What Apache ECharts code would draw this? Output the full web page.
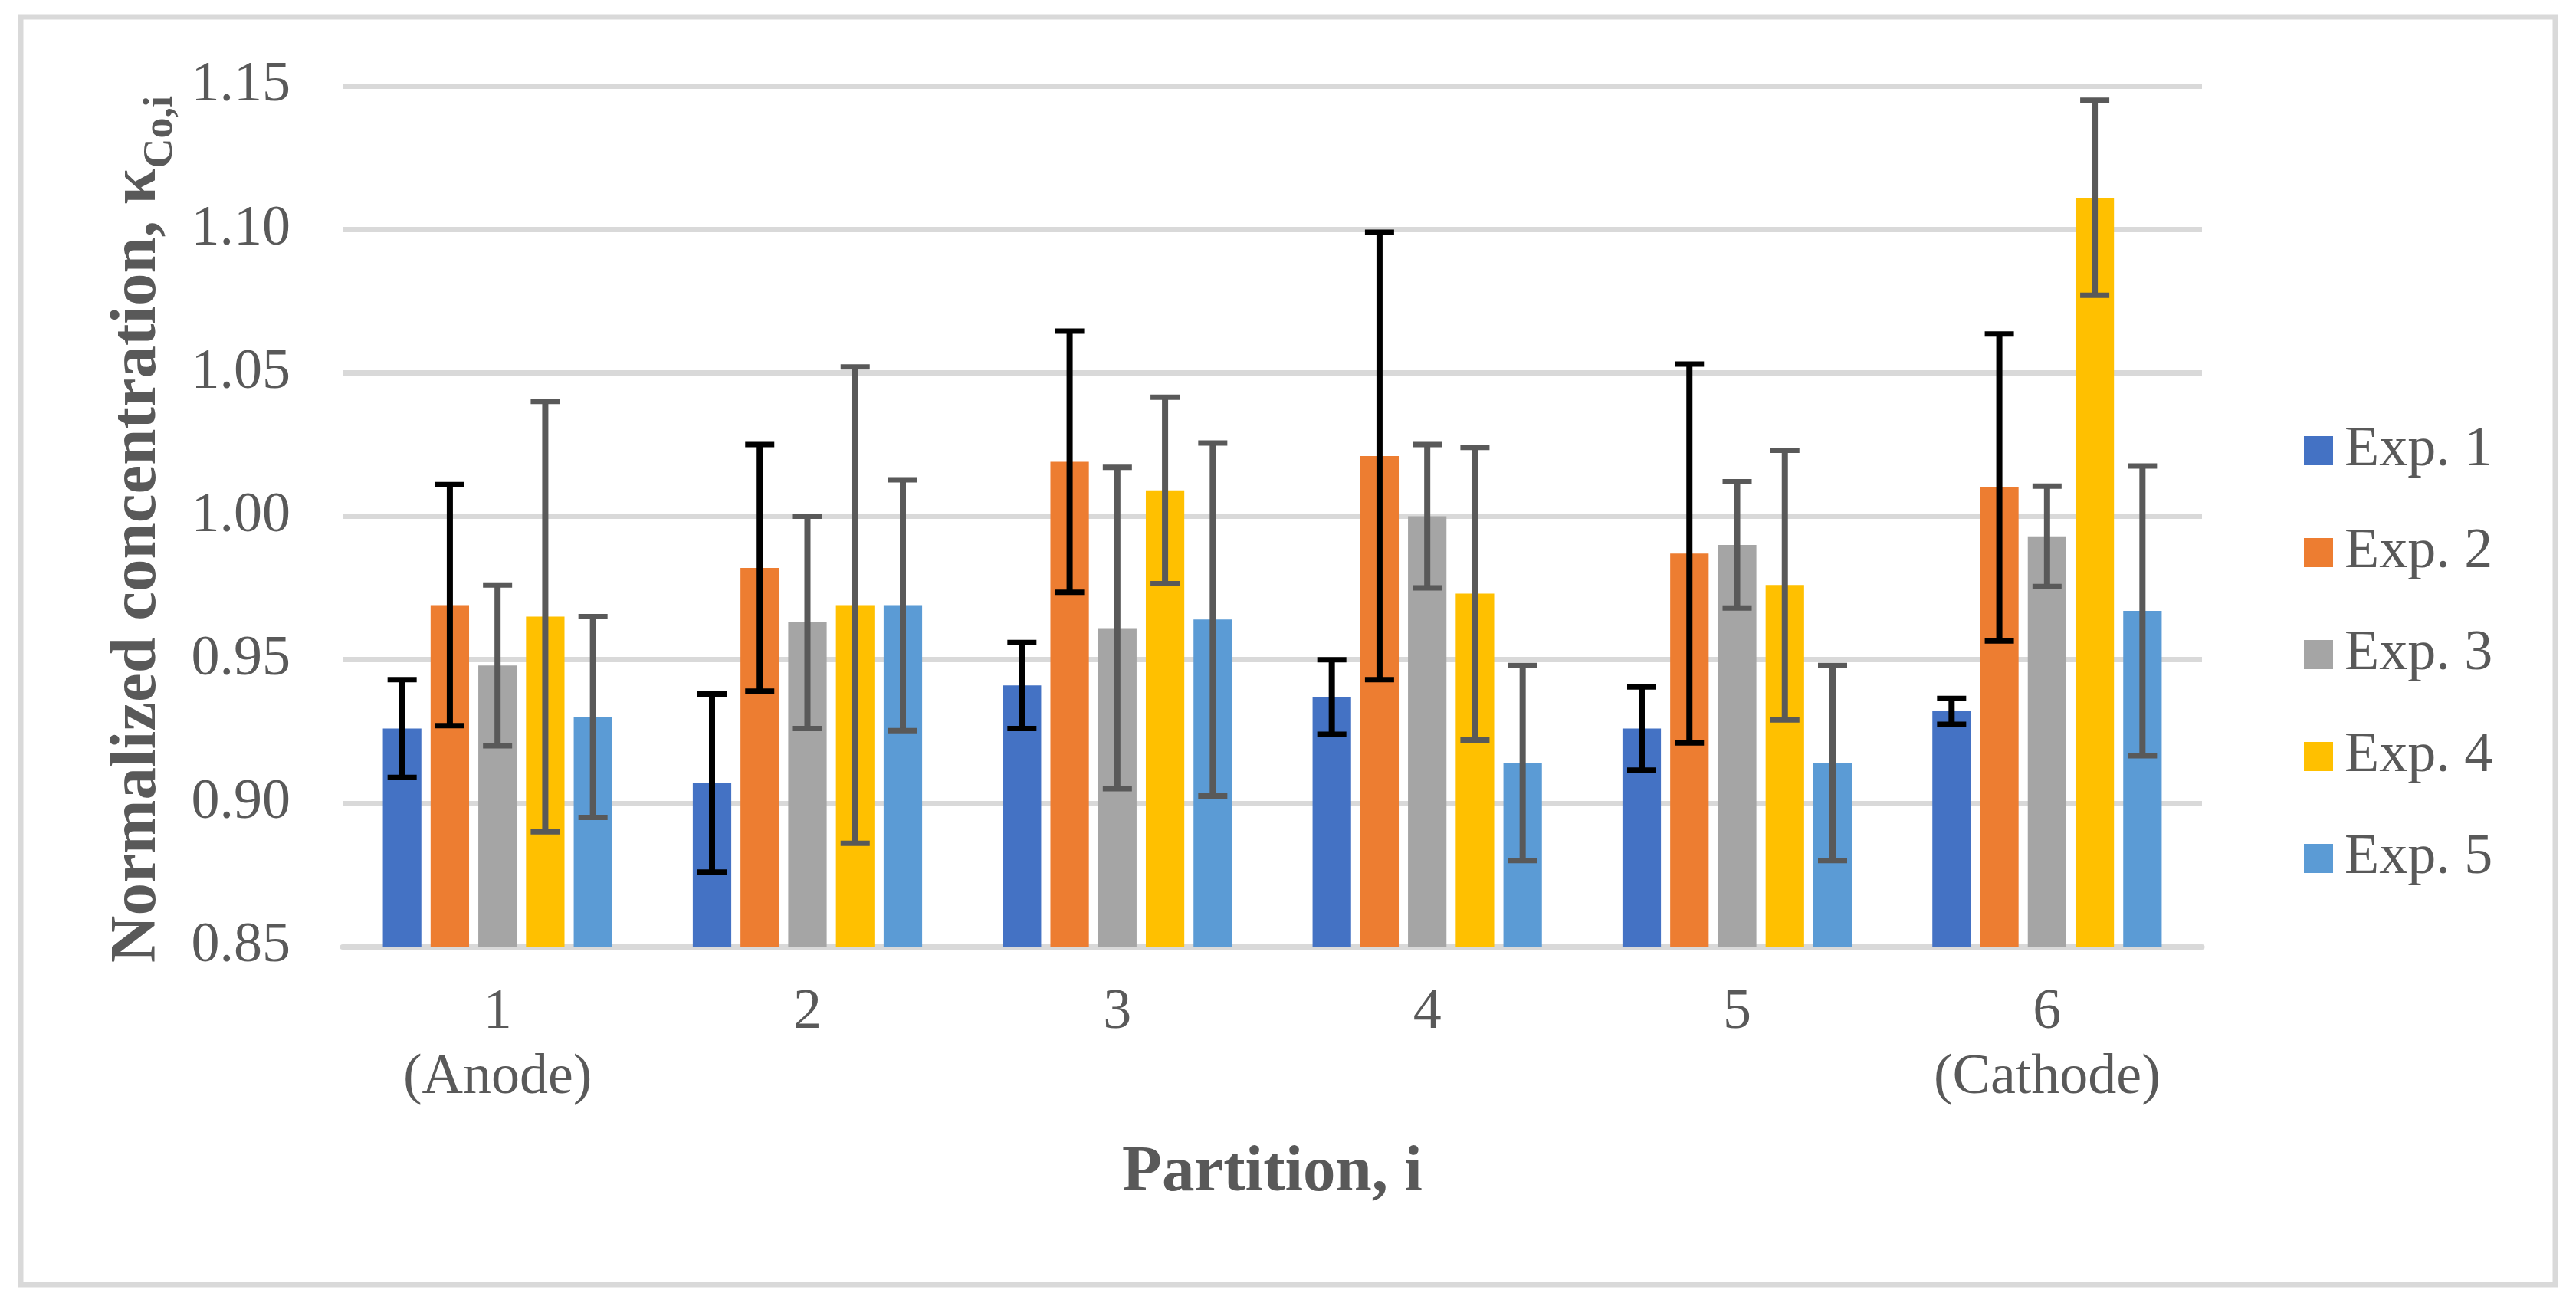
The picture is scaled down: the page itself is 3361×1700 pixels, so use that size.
<!DOCTYPE html>
<html>
<head>
<meta charset="utf-8">
<script src="https://cdn.jsdelivr.net/npm/echarts@6/dist/echarts.min.js"></script>
<style>
html,body{margin:0;padding:0;background:#fff;}
#chart{width:3361px;height:1700px;}
</style>
</head>
<body>
<div id="chart"></div>
<script>
const categories = ['1\n(Anode)', '2', '3', '4', '5', '6\n(Cathode)'];
const seriesNames = ['Exp. 1', 'Exp. 2', 'Exp. 3', 'Exp. 4', 'Exp. 5'];
const exp1 = [0.926, 0.907, 0.941, 0.937, 0.926, 0.932];
const exp2 = [0.969, 0.982, 1.019, 1.021, 0.987, 1.010];
const exp3 = [0.948, 0.963, 0.961, 1.000, 0.990, 0.993];
const exp4 = [0.965, 0.969, 1.009, 0.973, 0.976, 1.111];
const exp5 = [0.930, 0.969, 0.964, 0.914, 0.914, 0.967];
const err1 = [0.017, 0.031, 0.015, 0.013, 0.0145, 0.0045];
const err2 = [0.042, 0.043, 0.0455, 0.078, 0.066, 0.0535];
const err3 = [0.028, 0.037, 0.056, 0.025, 0.022, 0.0175];
const err4 = [0.075, 0.083, 0.0325, 0.051, 0.047, 0.034];
const err5 = [0.035, 0.0437, 0.0615, 0.034, 0.034, 0.0505];
const yTicks = [0.85, 0.90, 0.95, 1.00, 1.05, 1.10, 1.15];

const means = [exp1, exp2, exp3, exp4, exp5];
const errs = [err1, err2, err3, err4, err5];
const colors = ['#4472C4', '#ED7D31', '#A5A5A5', '#FFC000', '#5B9BD5'];
const errColors = ['#000000', '#000000', '#595959', '#595959', '#595959'];
const FONT = '"Liberation Serif", "Times New Roman", serif';
const CAT_GAP = 0.26, BAR_GAP = 0.24;

const chart = echarts.init(document.getElementById('chart'));

function errSeries(k) {
  return {
    type: 'custom',
    name: 'err' + k,
    z: 10,
    silent: true,
    encode: { x: 0, y: 1 },
    data: means[k].map((v, i) => [i, v, errs[k][i]]),
    renderItem: function (params, api) {
      const i = api.value(0), m = api.value(1), e = api.value(2);
      const band = api.size([1, 0])[0];
      const n = means.length;
      const usable = band * (1 - CAT_GAP);
      const bw = usable / (n + (n - 1) * BAR_GAP);
      const off = -usable / 2 + k * bw * (1 + BAR_GAP) + bw / 2;
      const x = api.coord([i, m])[0] + off;
      const yt = api.coord([i, m + e])[1];
      const yb = api.coord([i, m - e])[1];
      const hw = 19;
      const st = { stroke: errColors[k], lineWidth: 7 };
      return {
        type: 'group',
        children: [
          { type: 'line', shape: { x1: x, y1: yt, x2: x, y2: yb }, style: { stroke: errColors[k], lineWidth: 8 } },
          { type: 'line', shape: { x1: x - hw, y1: yt, x2: x + hw, y2: yt }, style: st },
          { type: 'line', shape: { x1: x - hw, y1: yb, x2: x + hw, y2: yb }, style: st }
        ]
      };
    }
  };
}

const barSeries = seriesNames.map((nm, k) => ({
  type: 'bar',
  name: nm,
  data: means[k],
  barGap: (BAR_GAP * 100) + '%',
  barCategoryGap: (CAT_GAP * 100) + '%',
  itemStyle: { color: colors[k] },
  z: 2
}));

const option = {
  backgroundColor: '#ffffff',
  animation: false,
  graphic: [{
    type: 'rect',
    shape: { x: 27, y: 22, width: 3307, height: 1654 },
    style: { fill: 'none', stroke: '#D9D9D9', lineWidth: 7 },
    z: -1
  }],
  grid: { left: 447, right: 488, top: 112, bottom: 465 },
  legend: {
    orient: 'vertical',
    left: 3001,
    top: 543,
    itemWidth: 38,
    itemHeight: 38,
    itemGap: 53,
    icon: 'rect',
    data: seriesNames,
    textStyle: { fontFamily: FONT, fontSize: 74, color: '#595959', lineHeight: 80, padding: [0, 0, 0, 10] }
  },
  xAxis: {
    type: 'category',
    data: categories,
    axisLine: { show: true, lineStyle: { color: '#D9D9D9', width: 7 } },
    axisTick: { show: false },
    axisLabel: { interval: 0, margin: 44, fontFamily: FONT, fontSize: 74, color: '#595959', lineHeight: 85 },
    name: 'Partition, i',
    nameLocation: 'middle',
    nameGap: 254,
    nameTextStyle: { fontFamily: FONT, fontSize: 85, fontWeight: 'bold', color: '#595959' }
  },
  yAxis: {
    type: 'value',
    min: yTicks[0],
    max: yTicks[yTicks.length - 1],
    interval: 0.05,
    axisLine: { show: false },
    axisTick: { show: false },
    splitLine: { show: true, lineStyle: { color: '#D9D9D9', width: 7 } },
    axisLabel: { margin: 68, fontFamily: FONT, fontSize: 74, color: '#595959', formatter: v => v.toFixed(2) },
    name: '{a|Normalized concentration, κ}{b|Co,i}',
    nameLocation: 'middle',
    nameRotate: 90,
    nameGap: 224,
    nameTextStyle: {
      color: '#595959',
      padding: [0, 34, 0, 0],
      rich: {
        a: { fontFamily: FONT, fontSize: 85, fontWeight: 'bold', color: '#595959', lineHeight: 100, verticalAlign: 'bottom' },
        b: { fontFamily: FONT, fontSize: 54, fontWeight: 'bold', color: '#595959', lineHeight: 100, verticalAlign: 'bottom', padding: [0, 0, -14, 0] }
      }
    }
  },
  series: barSeries.concat(seriesNames.map((_, k) => errSeries(k)))
};
chart.setOption(option);
</script>
</body>
</html>
